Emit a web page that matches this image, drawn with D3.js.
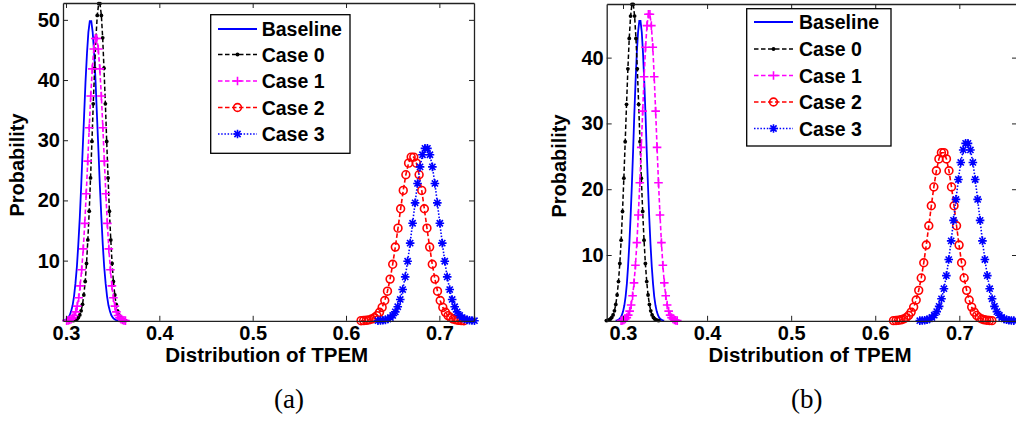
<!DOCTYPE html>
<html>
<head>
<meta charset="utf-8">
<script src="https://cdn.jsdelivr.net/npm/d3@7"></script>
<style>
  body { margin: 0; background: #fff; }
  svg { display: block; }
</style>
</head>
<body>
<svg id="chart" width="1016" height="426"></svg>
<script>
// ---- Estimated TPEM probability densities ----
const seriesNames = ["Baseline", "Case 0", "Case 1", "Case 2", "Case 3"];
const xTicks = [0.3, 0.4, 0.5, 0.6, 0.7];
const yTicksA = [10, 20, 30, 40, 50];
const yTicksB = [10, 20, 30, 40];

// Panel (a)
const baselineA_x = [0.2963,0.2978,0.2994,0.3009,0.3024,0.3040,0.3055,0.3071,0.3086,0.3101,0.3117,0.3132,0.3148,0.3163,0.3178,0.3194,0.3209,0.3225,0.3240,0.3255,0.3271,0.3286,0.3302,0.3317,0.3332,0.3348,0.3363,0.3379,0.3394,0.3409,0.3425,0.3440,0.3455,0.3471,0.3486,0.3502,0.3517,0.3532,0.3548,0.3563];
const baselineA_y = [0.04,0.08,0.15,0.28,0.52,0.92,1.57,2.58,4.06,6.17,9.02,12.69,17.20,22.43,28.17,34.07,39.66,44.44,47.95,49.80,49.80,47.95,44.44,39.66,34.07,28.17,22.43,17.20,12.69,9.02,6.17,4.06,2.58,1.57,0.92,0.52,0.28,0.15,0.08,0.04];
const case0A_x = [0.3076,0.3090,0.3105,0.3119,0.3133,0.3148,0.3162,0.3177,0.3191,0.3206,0.3220,0.3234,0.3249,0.3263,0.3278,0.3292,0.3307,0.3321,0.3335,0.3350,0.3364,0.3379,0.3393,0.3407,0.3422,0.3436,0.3451,0.3465,0.3480,0.3494,0.3508,0.3523,0.3537,0.3552,0.3566,0.3580,0.3595,0.3609,0.3624,0.3638];
const case0A_y = [0.04,0.08,0.16,0.30,0.55,0.98,1.66,2.73,4.30,6.53,9.54,13.43,18.20,23.74,29.81,36.05,41.96,47.02,50.74,52.70,52.70,50.74,47.02,41.96,36.05,29.81,23.74,18.20,13.43,9.54,6.53,4.30,2.73,1.66,0.98,0.55,0.30,0.16,0.08,0.04];
const case1A_x = [0.3007,0.3023,0.3039,0.3055,0.3071,0.3087,0.3104,0.3120,0.3136,0.3152,0.3168,0.3185,0.3201,0.3217,0.3233,0.3249,0.3265,0.3282,0.3298,0.3314,0.3330,0.3346,0.3362,0.3379,0.3395,0.3411,0.3427,0.3443,0.3459,0.3476,0.3492,0.3508,0.3524,0.3540,0.3557,0.3573,0.3589,0.3605,0.3621,0.3637];
const case1A_y = [0.03,0.07,0.14,0.27,0.49,0.87,1.48,2.43,3.83,5.81,8.49,11.95,16.19,21.12,26.53,32.08,37.34,41.85,45.15,46.90,46.90,45.15,41.85,37.34,32.08,26.53,21.12,16.19,11.95,8.49,5.81,3.83,2.43,1.48,0.87,0.49,0.27,0.14,0.07,0.03];
const case2A_x = [0.6161,0.6189,0.6218,0.6246,0.6274,0.6302,0.6331,0.6359,0.6387,0.6415,0.6444,0.6472,0.6500,0.6528,0.6557,0.6585,0.6613,0.6641,0.6670,0.6698,0.6726,0.6754,0.6783,0.6811,0.6839,0.6867,0.6896,0.6924,0.6952,0.6980,0.7009,0.7037,0.7065,0.7093,0.7122,0.7150,0.7178,0.7206,0.7235,0.7263];
const case2A_y = [0.02,0.04,0.08,0.16,0.29,0.50,0.86,1.41,2.22,3.37,4.92,6.93,9.39,12.25,15.39,18.61,21.66,24.27,26.19,27.20,27.20,26.19,24.27,21.66,18.61,15.39,12.25,9.39,6.93,4.92,3.37,2.22,1.41,0.86,0.50,0.29,0.16,0.08,0.04,0.02];
const case3A_x = [0.6342,0.6369,0.6395,0.6422,0.6448,0.6475,0.6501,0.6528,0.6554,0.6581,0.6607,0.6634,0.6660,0.6687,0.6713,0.6740,0.6766,0.6793,0.6819,0.6846,0.6872,0.6899,0.6925,0.6952,0.6978,0.7005,0.7031,0.7058,0.7084,0.7111,0.7137,0.7164,0.7190,0.7217,0.7243,0.7270,0.7296,0.7323,0.7349,0.7376];
const case3A_y = [0.02,0.04,0.09,0.16,0.30,0.53,0.90,1.48,2.34,3.55,5.19,7.30,9.89,12.91,16.21,19.60,22.82,25.57,27.59,28.65,28.65,27.59,25.57,22.82,19.60,16.21,12.91,9.89,7.30,5.19,3.55,2.34,1.48,0.90,0.53,0.30,0.16,0.09,0.04,0.02];

// Panel (b)
const baselineB_x = [0.2912,0.2927,0.2942,0.2957,0.2971,0.2986,0.3001,0.3016,0.3031,0.3046,0.3060,0.3075,0.3090,0.3105,0.3120,0.3134,0.3149,0.3164,0.3179,0.3194,0.3208,0.3223,0.3238,0.3253,0.3268,0.3282,0.3297,0.3312,0.3327,0.3342,0.3357,0.3371,0.3386,0.3401,0.3416,0.3431,0.3445,0.3460,0.3475,0.3490];
const baselineB_y = [0.03,0.07,0.14,0.26,0.48,0.85,1.44,2.36,3.72,5.65,8.26,11.62,15.75,20.54,25.80,31.19,36.31,40.69,43.90,45.60,45.60,43.90,40.69,36.31,31.19,25.80,20.54,15.75,11.62,8.26,5.65,3.72,2.36,1.44,0.85,0.48,0.26,0.14,0.07,0.03];
const case0B_x = [0.2802,0.2818,0.2834,0.2850,0.2866,0.2882,0.2898,0.2914,0.2930,0.2946,0.2962,0.2978,0.2994,0.3010,0.3026,0.3042,0.3058,0.3074,0.3090,0.3106,0.3122,0.3138,0.3154,0.3170,0.3186,0.3202,0.3218,0.3234,0.3250,0.3266,0.3282,0.3298,0.3314,0.3330,0.3346,0.3362,0.3378,0.3394,0.3410,0.3426];
const case0B_y = [0.04,0.07,0.14,0.27,0.50,0.89,1.52,2.49,3.92,5.96,8.71,12.26,16.61,21.67,27.21,32.90,38.30,42.92,46.31,48.10,48.10,46.31,42.92,38.30,32.90,27.21,21.67,16.61,12.26,8.71,5.96,3.92,2.49,1.52,0.89,0.50,0.27,0.14,0.07,0.04];
const case1B_x = [0.2977,0.2994,0.3011,0.3028,0.3045,0.3062,0.3079,0.3097,0.3114,0.3131,0.3148,0.3165,0.3182,0.3200,0.3217,0.3234,0.3251,0.3268,0.3285,0.3302,0.3320,0.3337,0.3354,0.3371,0.3388,0.3405,0.3422,0.3440,0.3457,0.3474,0.3491,0.3508,0.3525,0.3543,0.3560,0.3577,0.3594,0.3611,0.3628,0.3645];
const case1B_y = [0.03,0.07,0.14,0.27,0.49,0.86,1.47,2.41,3.80,5.77,8.44,11.88,16.09,20.99,26.36,31.87,37.10,41.58,44.86,46.60,46.60,44.86,41.58,37.10,31.87,26.36,20.99,16.09,11.88,8.44,5.77,3.80,2.41,1.47,0.86,0.49,0.27,0.14,0.07,0.03];
const case2B_x = [0.6217,0.6247,0.6277,0.6307,0.6337,0.6367,0.6397,0.6427,0.6457,0.6487,0.6517,0.6547,0.6577,0.6607,0.6637,0.6667,0.6697,0.6727,0.6757,0.6787,0.6817,0.6847,0.6877,0.6907,0.6937,0.6967,0.6997,0.7027,0.7057,0.7087,0.7117,0.7147,0.7177,0.7207,0.7237,0.7267,0.7297,0.7327,0.7357,0.7387];
const case2B_y = [0.02,0.04,0.08,0.15,0.27,0.47,0.81,1.32,2.08,3.16,4.63,6.51,8.82,11.51,14.45,17.48,20.34,22.80,24.60,25.55,25.55,24.60,22.80,20.34,17.48,14.45,11.51,8.82,6.51,4.63,3.16,2.08,1.32,0.81,0.47,0.27,0.15,0.08,0.04,0.02];
const case3B_x = [0.6530,0.6559,0.6588,0.6616,0.6645,0.6674,0.6702,0.6731,0.6760,0.6788,0.6817,0.6846,0.6874,0.6903,0.6931,0.6960,0.6989,0.7017,0.7046,0.7075,0.7103,0.7132,0.7161,0.7189,0.7218,0.7247,0.7275,0.7304,0.7333,0.7361,0.7390,0.7418,0.7447,0.7476,0.7504,0.7533,0.7562,0.7590,0.7619,0.7648];
const case3B_y = [0.02,0.04,0.08,0.15,0.28,0.50,0.85,1.39,2.20,3.34,4.88,6.87,9.31,12.15,15.26,18.45,21.48,24.07,25.97,26.97,26.97,25.97,24.07,21.48,18.45,15.26,12.15,9.31,6.87,4.88,3.34,2.20,1.39,0.85,0.50,0.28,0.15,0.08,0.04,0.02];

// ---- Appearance of each series (line + marker) ----
const styles = [
  { color: "#0000ff", dash: null,       width: 1.8, marker: null },
  { color: "#000000", dash: "4.5,2.5",  width: 1.5, marker: "dot" },
  { color: "#ff00ff", dash: "4.5,2.5",  width: 1.6, marker: "plus" },
  { color: "#ff0000", dash: "4.5,2.5",  width: 1.6, marker: "circle" },
  { color: "#0000ff", dash: "1.5,1.7",  width: 1.6, marker: "star" }
];

const panels = [
  {
    caption: "(a)",
    box: { l: 63, r: 474, t: 3, b: 320.8 },
    xDomain: [0.2968, 0.7371], yDomain: [0, 52.8], yTicks: yTicksA,
    series: [[baselineA_x, baselineA_y], [case0A_x, case0A_y], [case1A_x, case1A_y], [case2A_x, case2A_y], [case3A_x, case3A_y]],
    legend: { l: 210.7, t: 14.7, w: 139.3, h: 138.6, rows: [29, 54.5, 81, 107.5, 134], lineL: 218, lineR: 257, textX: 261.7 },
    yLabel: { x: 23.6, y: 165 }, xLabelX: 266.7, captionX: 289
  },
  {
    caption: "(b)",
    box: { l: 606.7, r: 1017, t: 4, b: 320.8 },
    xDomain: [0.2806, 0.7686], yDomain: [0, 48.15], yTicks: yTicksB,
    series: [[baselineB_x, baselineB_y], [case0B_x, case0B_y], [case1B_x, case1B_y], [case2B_x, case2B_y], [case3B_x, case3B_y]],
    legend: { l: 746.7, t: 8.7, w: 144.3, h: 137.3, rows: [22, 49, 75.5, 102, 128.5], lineL: 754, lineR: 793, textX: 799 },
    yLabel: { x: 565.5, y: 166 }, xLabelX: 810, captionX: 806.7
  }
];

const FONT = "'Liberation Sans', Arial, Helvetica, sans-serif";
const svg = d3.select("#chart");

function drawMarker(g, type, color, cx, cy) {
  if (!type) return;
  if (type === "dot") {
    g.append("circle").attr("cx", cx).attr("cy", cy).attr("r", 1.9).attr("fill", color);
  } else if (type === "circle") {
    g.append("circle").attr("cx", cx).attr("cy", cy).attr("r", 3.9)
      .attr("fill", "none").attr("stroke", color).attr("stroke-width", 1.6);
  } else if (type === "plus") {
    g.append("path").attr("transform", `translate(${cx},${cy})`)
      .attr("d", "M-4.3,0H4.3M0,-4.3V4.3").attr("stroke", color).attr("stroke-width", 1.6).attr("fill", "none");
  } else if (type === "star") {
    g.append("path").attr("transform", `translate(${cx},${cy})`)
      .attr("d", "M-4.3,0H4.3M0,-4.3V4.3M-3.1,-3.1L3.1,3.1M-3.1,3.1L3.1,-3.1")
      .attr("stroke", color).attr("stroke-width", 1.6).attr("fill", "none");
  }
}

panels.forEach(p => {
  const x = d3.scaleLinear().domain(p.xDomain).range([p.box.l, p.box.r]);
  const y = d3.scaleLinear().domain(p.yDomain).range([p.box.b, p.box.t]);
  const root = svg.append("g");

  // curves
  const line = d3.line().x(d => x(d[0])).y(d => y(d[1]));
  p.series.forEach((s, i) => {
    const st = styles[i];
    const pts = s[0].map((xv, k) => [xv, s[1][k]]);
    const g = root.append("g");
    g.append("path").datum(pts).attr("d", line)
      .attr("fill", "none").attr("stroke", st.color).attr("stroke-width", st.width)
      .attr("stroke-dasharray", st.dash);
    pts.forEach(d => drawMarker(g, st.marker, st.color, x(d[0]), y(d[1])));
  });

  // axes (ticks point inward, box on all four sides)
  const axStyle = sel => {
    sel.select(".domain").attr("stroke", "#222").attr("stroke-width", 1.3);
    sel.selectAll(".tick line").attr("stroke", "#222").attr("stroke-width", 1);
    sel.selectAll("text").attr("font-family", FONT).attr("font-weight", "bold")
      .attr("font-size", 20).attr("fill", "#000");
  };
  root.append("g").attr("transform", `translate(0,${p.box.b})`)
    .call(d3.axisBottom(x).tickValues(xTicks).tickFormat(d3.format(".1f")).tickSizeInner(-5).tickSizeOuter(0).tickPadding(5.5))
    .call(axStyle);
  root.append("g").attr("transform", `translate(0,${p.box.t})`)
    .call(d3.axisTop(x).tickValues(xTicks).tickFormat("").tickSizeInner(-5).tickSizeOuter(0))
    .call(axStyle);
  root.append("g").attr("transform", `translate(${p.box.l},0)`)
    .call(d3.axisLeft(y).tickValues(p.yTicks).tickFormat(d3.format("d")).tickSizeInner(-5).tickSizeOuter(0).tickPadding(3))
    .call(axStyle);
  root.append("g").attr("transform", `translate(${p.box.r},0)`)
    .call(d3.axisRight(y).tickValues(p.yTicks).tickFormat("").tickSizeInner(-5).tickSizeOuter(0))
    .call(axStyle);

  // axis titles
  root.append("text").attr("x", p.xLabelX).attr("y", 362).attr("text-anchor", "middle")
    .attr("font-family", FONT).attr("font-weight", "bold").attr("font-size", 19.5)
    .attr("textLength", 203).attr("lengthAdjust", "spacingAndGlyphs")
    .text("Distribution of TPEM");
  root.append("text").attr("transform", `translate(${p.yLabel.x},${p.yLabel.y}) rotate(-90)`)
    .attr("text-anchor", "middle")
    .attr("font-family", FONT).attr("font-weight", "bold").attr("font-size", 19.5)
    .attr("textLength", 103).attr("lengthAdjust", "spacingAndGlyphs")
    .text("Probability");

  // legend
  const L = p.legend;
  const lg = root.append("g");
  lg.append("rect").attr("x", L.l).attr("y", L.t).attr("width", L.w).attr("height", L.h)
    .attr("fill", "#fff").attr("stroke", "#000").attr("stroke-width", 1.3);
  seriesNames.forEach((name, i) => {
    const st = styles[i];
    const ry = L.rows[i];
    lg.append("line").attr("x1", L.lineL).attr("x2", L.lineR).attr("y1", ry).attr("y2", ry)
      .attr("stroke", st.color).attr("stroke-width", st.width).attr("stroke-dasharray", st.dash);
    drawMarker(lg, st.marker, st.color, (L.lineL + L.lineR) / 2, ry);
    lg.append("text").attr("x", L.textX).attr("y", ry).attr("dy", "0.36em")
      .attr("font-family", FONT).attr("font-weight", "bold").attr("font-size", 19.5)
      .text(name);
  });

  // panel caption
  root.append("text").attr("x", p.captionX).attr("y", 408).attr("text-anchor", "middle")
    .attr("font-family", "'Liberation Serif', 'Times New Roman', serif").attr("font-size", 27)
    .text(p.caption);
});
</script>
</body>
</html>
